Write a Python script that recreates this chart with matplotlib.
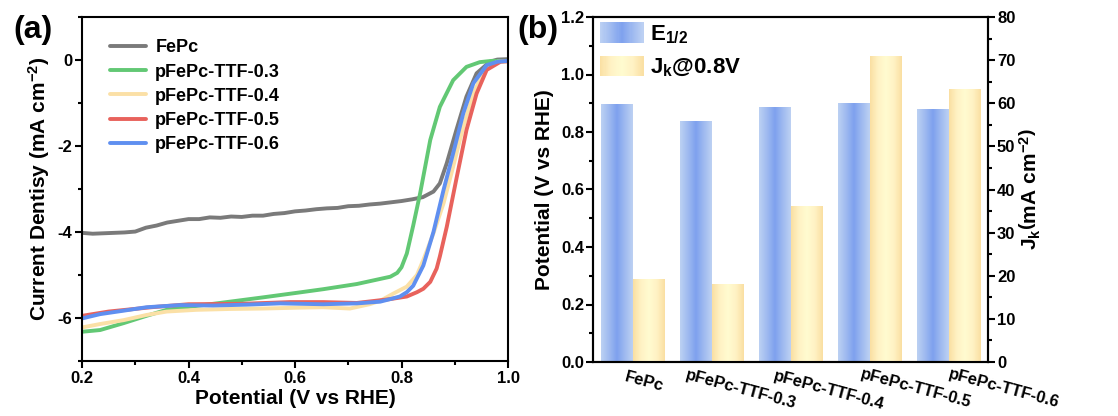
import numpy as np
import matplotlib
matplotlib.use("Agg")
import matplotlib.pyplot as plt
from matplotlib.colors import LinearSegmentedColormap
from matplotlib.legend_handler import HandlerBase
from matplotlib.patches import Rectangle
from matplotlib.transforms import ScaledTranslation
from matplotlib.ticker import MultipleLocator

plt.rcParams['font.family'] = ['Liberation Sans', 'DejaVu Sans']
plt.rcParams['font.weight'] = 'bold'
plt.rcParams['axes.labelweight'] = 'bold'
plt.rcParams['axes.unicode_minus'] = False
plt.rcParams['mathtext.fontset'] = 'custom'
plt.rcParams['mathtext.rm'] = 'Liberation Sans:bold'
plt.rcParams['mathtext.bf'] = 'Liberation Sans:bold'
plt.rcParams['mathtext.it'] = 'Liberation Sans:bold'
plt.rcParams['mathtext.default'] = 'bf'

# ---- panel (a): LSV curves ----
v_fepc = [0.20, 0.22, 0.24, 0.26, 0.28, 0.30, 0.32, 0.34, 0.36, 0.38, 0.40, 0.42, 0.44, 0.46,
          0.48, 0.50, 0.52, 0.54, 0.56, 0.58, 0.60, 0.62, 0.64, 0.66, 0.68, 0.70, 0.72, 0.74,
          0.76, 0.78, 0.80, 0.82, 0.84, 0.86, 0.872, 0.885, 0.903, 0.922, 0.941, 0.966, 0.98, 1.0]
j_fepc = [-4.02, -4.04, -4.03, -4.02, -4.01, -3.99, -3.90, -3.85, -3.78, -3.74, -3.70, -3.70,
          -3.66, -3.67, -3.64, -3.65, -3.62, -3.62, -3.58, -3.56, -3.52, -3.50, -3.47, -3.45,
          -3.44, -3.40, -3.39, -3.36, -3.34, -3.31, -3.28, -3.24, -3.19, -3.06, -2.87, -2.40,
          -1.63, -0.85, -0.31, -0.04, 0.01, 0.02]

v_03 = [0.20, 0.234, 0.278, 0.321, 0.359, 0.415, 0.478, 0.54, 0.606, 0.653, 0.716, 0.779, 0.792,
        0.80, 0.81, 0.822, 0.835, 0.854, 0.872, 0.897, 0.922, 0.947, 0.97, 1.0]
j_03 = [-6.32, -6.28, -6.12, -5.95, -5.81, -5.72, -5.62, -5.52, -5.41, -5.33, -5.21, -5.04, -4.95,
        -4.82, -4.50, -3.85, -3.10, -1.86, -1.09, -0.47, -0.16, -0.05, -0.02, -0.02]

v_04 = [0.20, 0.234, 0.278, 0.321, 0.359, 0.415, 0.478, 0.54, 0.606, 0.653, 0.703, 0.74, 0.76,
        0.785, 0.81, 0.829, 0.841, 0.86, 0.879, 0.897, 0.916, 0.935, 0.954, 0.98, 1.0]
j_04 = [-6.22, -6.14, -6.05, -5.93, -5.85, -5.81, -5.79, -5.78, -5.76, -5.75, -5.78, -5.68, -5.60,
        -5.43, -5.27, -5.00, -4.65, -4.03, -3.33, -2.48, -1.55, -0.78, -0.27, -0.04, -0.03]

v_05 = [0.20, 0.25, 0.33, 0.40, 0.50, 0.591, 0.653, 0.716, 0.779, 0.81, 0.829, 0.841, 0.854,
        0.866, 0.872, 0.885, 0.904, 0.922, 0.941, 0.96, 0.986, 1.0]
j_05 = [-5.95, -5.85, -5.75, -5.68, -5.67, -5.63, -5.63, -5.65, -5.56, -5.50, -5.40, -5.32, -5.16,
        -4.85, -4.57, -3.88, -2.71, -1.63, -0.78, -0.23, -0.04, -0.03]

v_06 = [0.20, 0.234, 0.278, 0.321, 0.384, 0.446, 0.509, 0.572, 0.653, 0.716, 0.76, 0.779, 0.797,
        0.81, 0.822, 0.841, 0.86, 0.879, 0.897, 0.916, 0.935, 0.96, 0.98, 1.0]
j_06 = [-6.01, -5.91, -5.83, -5.75, -5.70, -5.71, -5.69, -5.66, -5.68, -5.66, -5.62, -5.56, -5.50,
        -5.40, -5.25, -4.78, -4.00, -3.02, -2.17, -1.24, -0.54, -0.12, -0.04, -0.02]

curve_labels = ['FePc', 'pFePc-TTF-0.3', 'pFePc-TTF-0.4', 'pFePc-TTF-0.5', 'pFePc-TTF-0.6']
curve_colors = ['#7a7a7a', '#62c874', '#fbe0a6', '#e8625c', '#5f8ff0']

# ---- panel (b): bars ----
samples = ['FePc', 'pFePc-TTF-0.3', 'pFePc-TTF-0.4', 'pFePc-TTF-0.5', 'pFePc-TTF-0.6']
e_half = [0.897, 0.839, 0.888, 0.901, 0.881]
jk_08 = [19.2, 18.1, 36.2, 71.0, 63.4]

blue_cmap = LinearSegmentedColormap.from_list(
    'bl', ['#bcd1f3', '#9fbaf0', '#7ea1ee', '#9fbaf0', '#bdd1f3'])
yellow_cmap = LinearSegmentedColormap.from_list(
    'yl', ['#fadfa2', '#fff2c4', '#fffbd0', '#fff2c4', '#fadfa2'])


class GradientHandler(HandlerBase):
    def __init__(self, cmap):
        super().__init__()
        self.cmap = cmap

    def create_artists(self, legend, orig_handle, xdescent, ydescent, width, height, fontsize, trans):
        n = 40
        out = []
        for i in range(n):
            r = Rectangle((-xdescent + i * width / n, -ydescent), width / n * 1.1, height,
                          facecolor=self.cmap((i + 0.5) / n), edgecolor='none', transform=trans)
            out.append(r)
        return out


def gradient_bars(ax, bars, cmap):
    grad = np.linspace(0, 1, 200).reshape(1, -1)
    for b in bars:
        x, y = b.get_x(), b.get_y()
        w, h = b.get_width(), b.get_height()
        im = ax.imshow(grad, extent=[x, x + w, y, y + h], aspect='auto', cmap=cmap,
                       origin='lower', zorder=2, interpolation='bilinear')
        im.set_clip_path(b)


fig = plt.figure(figsize=(11.18, 4.16), dpi=100)

# panel (a)
ax1 = fig.add_axes([82 / 1118, 55 / 416, 426 / 1118, 344 / 416])
curves = [(v_fepc, j_fepc), (v_03, j_03), (v_04, j_04), (v_05, j_05), (v_06, j_06)]
for (v, j), lab, col in zip(curves, curve_labels, curve_colors):
    ax1.plot(v, j, color=col, lw=2.8, label=lab, solid_capstyle='round')
ax1.set_xlim(0.2, 1.0)
ax1.set_ylim(-7, 1)
ax1.set_yticks([-6, -4, -2, 0])
ax1.set_xticks([0.2, 0.4, 0.6, 0.8, 1.0])
ax1.xaxis.set_minor_locator(MultipleLocator(0.1))
ax1.yaxis.set_minor_locator(MultipleLocator(1))
ax1.tick_params(which='major', direction='out', length=5, width=1.5, labelsize=12, pad=2)
ax1.tick_params(which='minor', direction='out', length=3, width=1.5)
for s in ax1.spines.values():
    s.set_linewidth(1.5)
ax1.set_xlabel('Potential (V vs RHE)', fontsize=15, labelpad=2)
ax1.set_ylabel('Current Dentisy (mA cm$^{-2}$)', fontsize=15, labelpad=4)
ax1.legend(loc='upper left', bbox_to_anchor=(0.066, 0.935), frameon=False, fontsize=13,
           handlelength=2.0, handletextpad=0.5, labelspacing=0.40, borderpad=0, borderaxespad=0)
fig.text(13 / 1118, 1 - 30 / 416, '(a)', fontsize=23, fontweight='bold', va='center', ha='left')

# panel (b)
ax2 = fig.add_axes([593 / 1118, 54 / 416, 395 / 1118, 345 / 416])
ax3 = ax2.twinx()
x = np.arange(len(samples))
w = 0.4
b1 = ax2.bar(x - w / 2, e_half, w, facecolor='none', edgecolor='none', zorder=2)
b2 = ax3.bar(x + w / 2, jk_08, w, facecolor='none', edgecolor='none', zorder=2)
gradient_bars(ax2, b1, blue_cmap)
gradient_bars(ax3, b2, yellow_cmap)
ax2.set_xlim(-0.5, len(samples) - 0.5)
ax2.set_ylim(0, 1.2)
ax3.set_ylim(0, 80)
ax2.set_yticks(np.arange(0, 1.21, 0.2))
ax2.yaxis.set_minor_locator(MultipleLocator(0.1))
ax3.set_yticks(np.arange(0, 81, 10))
ax3.yaxis.set_minor_locator(MultipleLocator(5))
ax2.set_xticks(x)
ax2.set_xticklabels([])
ax2.tick_params(axis='x', length=0)
ax2.tick_params(axis='y', which='major', direction='out', length=5, width=1.5, labelsize=12, pad=1.5)
ax2.tick_params(axis='y', which='minor', direction='out', length=3, width=1.5)
ax3.tick_params(axis='y', which='major', direction='out', length=5, width=1.5, labelsize=12, pad=1.5)
ax3.tick_params(axis='y', which='minor', direction='out', length=3, width=1.5)
for a in (ax2, ax3):
    for s in a.spines.values():
        s.set_linewidth(1.5)
ax2.set_ylabel('Potential (V vs RHE)', fontsize=15, labelpad=5)
ax3.set_ylabel(r'J$_{k}\left(\mathbf{mA\ cm^{-2}}\right)$', fontsize=15, labelpad=2)

# slanted category labels, nudged like the original
label_dx = [11.5, 29.5, 38.5, 46.5, 55.5]
label_dy = [-20, -28, -29, -27, -27]
for i, lab in enumerate(samples):
    tr = ax2.get_xaxis_transform() + ScaledTranslation(label_dx[i] / 100, label_dy[i] / 100,
                                                       fig.dpi_scale_trans)
    ax2.text(x[i], 0, lab, transform=tr, rotation=-15, rotation_mode='anchor', ha='center',
             va='center', fontsize=12, fontweight='bold', clip_on=False)

h1 = Rectangle((0, 0), 1, 1)
h2 = Rectangle((0, 0), 1, 1)
ax3.legend([h1, h2], ['E$_{1/2}$', 'J$_{k}$@0.8V'],
           handler_map={h1: GradientHandler(blue_cmap), h2: GradientHandler(yellow_cmap)},
           loc='upper left', bbox_to_anchor=(0.018, 0.985), frameon=False, fontsize=16,
           handlelength=1.95, handleheight=1.05, handletextpad=0.3, labelspacing=0.45,
           borderpad=0, borderaxespad=0)
fig.text(517 / 1118, 1 - 30 / 416, '(b)', fontsize=23, fontweight='bold', va='center', ha='left')

fig.savefig('out.png', dpi=100)
